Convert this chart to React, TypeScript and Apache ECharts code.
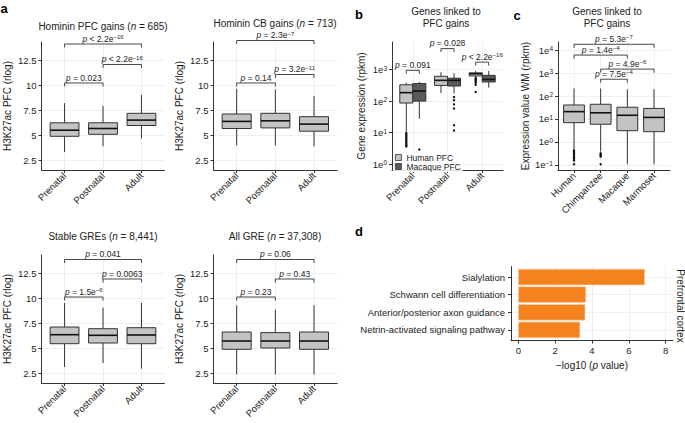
import React, { useEffect, useRef } from 'react';
import * as echarts from 'echarts';

const FONT = '"Liberation Sans", Arial, Helvetica, sans-serif';
const INK = '#222222';
const AXIS = '#333333';
const GRIDLINE = '#ebebeb';
const LIGHT = '#c3c3c3';
const DARK = '#5a5a5a';
const ORANGE = '#f4831f';

// ---------- categories / ticks ----------
const stages = ['Prenatal', 'Postnatal', 'Adult'];
const species = ['Human', 'Chimpanzee', 'Macaque', 'Marmoset'];
const terms = [
  'Sialylation',
  'Schwann cell differentiation',
  'Anterior/posterior axon guidance',
  'Netrin-activated signaling pathway',
];
const termLogP = [6.86, 3.66, 3.62, 3.34];

const rlogTicks = [2.5, 5, 7.5, 10, 12.5];
const exprTicks = [1, 10, 100, 1000];
const wmTicks = [0.1, 1, 10, 100, 1000, 10000];
const logPTicks = [0, 2, 4, 6, 8];

// ---------- panel a: boxes [min, q1, median, q3, max] ----------
const homininPfcBoxes = [
  [3.3, 4.87, 5.48, 6.22, 8.18],
  [3.86, 5.07, 5.65, 6.22, 7.9],
  [4.64, 5.95, 6.49, 7.17, 9.0],
];
const homininCbBoxes = [
  [3.96, 5.65, 6.36, 7.1, 9.6],
  [3.96, 5.71, 6.42, 7.17, 9.55],
  [3.86, 5.38, 6.09, 6.83, 8.92],
];
const stableGreBoxes = [
  [3.1, 5.43, 6.33, 7.1, 9.5],
  [3.5, 5.5, 6.27, 6.93, 9.04],
  [2.93, 5.43, 6.3, 7.03, 9.5],
];
const allGreBoxes = [
  [2.37, 4.87, 5.7, 6.6, 9.27],
  [2.37, 5.0, 5.7, 6.54, 8.84],
  [2.37, 4.87, 5.7, 6.6, 9.27],
];
// [from, to, y, p label, superscript]
const homininPfcPvals = [
  [1, 3, 14.1, '< 2.2e', '−16'],
  [2, 3, 12.05, '< 2.2e', '−16'],
  [1, 2, 10.2, '= 0.023', ''],
];
const homininCbPvals = [
  [1, 3, 14.45, '= 2.3e', '−7'],
  [2, 3, 11.05, '= 3.2e', '−11'],
  [1, 2, 10.2, '= 0.14', ''],
];
const stableGrePvals = [
  [1, 3, 13.85, '= 0.041', ''],
  [2, 3, 11.9, '= 0.0063', ''],
  [1, 2, 10.1, '= 1.5e', '−6'],
];
const allGrePvals = [
  [1, 3, 13.85, '= 0.06', ''],
  [2, 3, 11.9, '= 0.43', ''],
  [1, 2, 10.1, '= 0.23', ''],
];

// ---------- panel b: gene expression (rpkm) ----------
const humanPfcExpr = [
  [10.5, 87, 186, 331, 389],
  [182, 316, 457, 617, 832],
  [589, 631, 741, 794, 912],
];
const macaquePfcExpr = [
  [27.5, 100, 209, 363, 407],
  [174, 302, 457, 537, 776],
  [269, 407, 490, 661, 912],
];
// [stage, rpkm]
const humanPfcOutliers = [
  [1, 9.6], [1, 8.7], [1, 7.9], [1, 7.2], [1, 6.6], [1, 6.0], [1, 5.5],
  [1, 5.0], [1, 4.6], [1, 4.2], [1, 3.9], [1, 3.6],
  [3, 545], [3, 505], [3, 465], [3, 425], [3, 385], [3, 330], [3, 195],
];
const macaquePfcOutliers = [
  [1, 2.9], [2, 135], [2, 107], [2, 79], [2, 58], [2, 17], [2, 11.7],
];
// [stage, y, p label, superscript]
const exprPvals = [
  [1, 955, '= 0.091', ''],
  [2, 4677, '= 0.028', ''],
  [3, 1738, '< 2.2e', '−16'],
];

// ---------- panel c: expression value WM (rpkm) ----------
const wmBoxes = [
  [0.45, 6.9, 20.9, 40.7, 214],
  [0.38, 5.9, 18.6, 43.7, 214],
  [0.107, 3.1, 14.5, 32.4, 195],
  [0.107, 2.8, 11.7, 28.8, 195],
];
const wmOutliers = [
  [1, 0.42], [1, 0.37], [1, 0.32], [1, 0.28], [1, 0.24], [1, 0.21], [1, 0.18], [1, 0.155], [1, 0.107],
  [2, 0.32], [2, 0.29], [2, 0.26], [2, 0.23], [2, 0.107],
];
const wmPvals = [
  [1, 4, 17800, '= 5.3e', '−7'],
  [1, 3, 6030, '= 1.4e', '−4'],
  [2, 4, 1480, '= 4.9e', '−6'],
  [2, 3, 537, '= 7.5e', '−4'],
];

// ---------- helpers ----------
const lg = (v: number) => Math.log10(v);
const pRich = {
  i: { fontStyle: 'italic', fontSize: 8.5, fontFamily: FONT, color: INK },
  n: { fontSize: 8.5, fontFamily: FONT, color: INK },
  s: { fontSize: 6, fontFamily: FONT, color: INK, verticalAlign: 'top' },
};
const supRich = {
  s: { fontSize: 6.5, fontFamily: FONT, color: INK, verticalAlign: 'top' },
};
const titleRich = {
  i: { fontStyle: 'italic', fontSize: 10, fontFamily: FONT, color: INK },
};

function gridAt(left: number, top: number, width: number, height: number) {
  return { left, top, width, height, containLabel: false, outerBoundsMode: 'none' };
}

function xCatAxis(gridIndex: number, cats: string[]) {
  const vals = cats.map((_, i) => i + 1);
  return {
    type: 'value', gridIndex, min: 0.4, max: cats.length + 0.6,
    axisLine: { show: true, onZero: false, lineStyle: { color: AXIS, width: 1 } },
    axisTick: { show: true, length: 3, customValues: vals, lineStyle: { color: AXIS, width: 1 } },
    axisLabel: {
      customValues: vals, rotate: 45, margin: 4, fontSize: 9.5, color: INK, fontFamily: FONT,
      formatter: (v: number) => cats[Math.round(v) - 1],
    },
    splitLine: { show: true, lineStyle: { color: GRIDLINE, width: 0.8 } },
  };
}

function yValAxis(gridIndex: number, min: number, max: number, ticks: number[], name: string, nameGap: number, formatter?: any) {
  return {
    type: 'value', gridIndex, min, max,
    name, nameLocation: 'middle', nameRotate: 90, nameGap, nameMoveOverlap: false,
    nameTextStyle: { fontSize: 10, color: INK, fontFamily: FONT },
    axisLine: { show: true, onZero: false, lineStyle: { color: AXIS, width: 1 } },
    axisTick: { show: true, length: 3, customValues: ticks, lineStyle: { color: AXIS, width: 1 } },
    axisLabel: {
      customValues: ticks, margin: 5, fontSize: 9.5, color: INK, fontFamily: FONT,
      formatter, rich: supRich,
    },
    splitLine: { show: true, lineStyle: { color: GRIDLINE, width: 0.8 } },
  };
}

const logFmt = (v: number) => {
  const k = Math.round(v);
  return '1e{s|' + (k < 0 ? '−' + -k : String(k)) + '}';
};

function boxSeries(axisIndex: number, rows: number[][], offset: number, width: number, fill: string, log: boolean, name?: string) {
  const tf = log ? lg : (v: number) => v;
  return {
    type: 'custom', name, xAxisIndex: axisIndex, yAxisIndex: axisIndex, z: 3, silent: true,
    itemStyle: { color: fill },
    encode: { x: 0, y: [1, 2, 3, 4, 5] },
    data: rows.map((b, i) => [i + 1 + offset, ...b.map(tf)]),
    renderItem: (params: any, api: any) => {
      const x = api.value(0);
      const p = [1, 2, 3, 4, 5].map((k) => api.coord([x, api.value(k)]));
      const cx = p[0][0];
      const hw = api.size([width, 0])[0] / 2;
      return {
        type: 'group',
        children: [
          { type: 'line', shape: { x1: cx, y1: p[4][1], x2: cx, y2: p[3][1] }, style: { stroke: AXIS, lineWidth: 1 } },
          { type: 'line', shape: { x1: cx, y1: p[1][1], x2: cx, y2: p[0][1] }, style: { stroke: AXIS, lineWidth: 1 } },
          { type: 'rect', shape: { x: cx - hw, y: p[3][1], width: 2 * hw, height: p[1][1] - p[3][1] }, style: { fill, stroke: AXIS, lineWidth: 1 } },
          { type: 'line', shape: { x1: cx - hw, y1: p[2][1], x2: cx + hw, y2: p[2][1] }, style: { stroke: '#111', lineWidth: 1.6 } },
        ],
      };
    },
  };
}

function bracketSeries(axisIndex: number, rows: any[], log: boolean) {
  return {
    type: 'custom', xAxisIndex: axisIndex, yAxisIndex: axisIndex, z: 4, silent: true,
    encode: { x: [0, 1], y: 2 },
    data: rows.map((r) => [r[0], r[1], log ? lg(r[2]) : r[2]]),
    renderItem: (params: any, api: any) => {
      const a = api.coord([api.value(0), api.value(2)]);
      const b = api.coord([api.value(1), api.value(2)]);
      const row = rows[params.dataIndex];
      const text = '{i|p}{n| ' + row[3] + '}' + (row[4] ? '{s|' + row[4] + '}' : '');
      const t = 3.5;
      return {
        type: 'group',
        children: [
          {
            type: 'polyline',
            shape: { points: [[a[0], a[1] + t], [a[0], a[1]], [b[0], b[1]], [b[0], b[1] + t]] },
            style: { stroke: AXIS, lineWidth: 0.9, fill: null },
          },
          {
            type: 'text', x: (a[0] + b[0]) / 2, y: a[1] - 1,
            style: {
              text, rich: pRich, fontSize: 8.5, fontFamily: FONT, fill: INK,
              align: 'center', verticalAlign: 'bottom',
            },
          },
        ],
      };
    },
  };
}

function scatterSeries(axisIndex: number, pts: number[][], offset: number) {
  return {
    type: 'scatter', xAxisIndex: axisIndex, yAxisIndex: axisIndex, z: 4, silent: true,
    symbolSize: 2.4, itemStyle: { color: '#111', opacity: 1 },
    data: pts.map((p) => [p[0] + offset, lg(p[1])]),
  };
}

function txt(x: number, y: number, text: string, extra: any = {}) {
  return {
    type: 'text', x, y, silent: true,
    style: {
      text, fontFamily: FONT, fontSize: 10, fill: INK, align: 'center', verticalAlign: 'middle',
      rich: titleRich, ...extra,
    },
  };
}

function buildOption() {
  const dodge = 0.1875;
  const bBrackets = exprPvals.map((r) => [(r[0] as number) - dodge, (r[0] as number) + dodge, r[1], r[2], r[3]]);
  return {
    animation: false,
    backgroundColor: '#ffffff',
    textStyle: { fontFamily: FONT },
    grid: [
      gridAt(41.5, 42, 123, 128),
      gridAt(213.5, 42, 123.7, 128),
      gridAt(41.5, 255, 123, 128),
      gridAt(213.5, 255, 123.7, 128),
      gridAt(392, 42, 111, 128),
      gridAt(558, 42, 112, 128),
      gridAt(511, 266.5, 162, 74),
    ],
    xAxis: [
      xCatAxis(0, stages),
      xCatAxis(1, stages),
      xCatAxis(2, stages),
      xCatAxis(3, stages),
      xCatAxis(4, stages),
      xCatAxis(5, species),
      {
        type: 'value', gridIndex: 6, min: -0.4, max: 8.4,
        name: '−log10 ({i|p} value)', nameLocation: 'middle', nameGap: 19.5, nameMoveOverlap: false,
        nameTextStyle: { fontSize: 10, color: INK, fontFamily: FONT, rich: titleRich },
        axisLine: { show: true, onZero: false, lineStyle: { color: AXIS, width: 1 } },
        axisTick: { show: true, length: 3, customValues: logPTicks, lineStyle: { color: AXIS } },
        axisLabel: { customValues: logPTicks, margin: 5, fontSize: 9.5, color: INK, fontFamily: FONT },
        splitLine: { show: true, lineStyle: { color: GRIDLINE, width: 0.8 } },
      },
    ],
    yAxis: [
      yValAxis(0, 1.5, 14.3, rlogTicks, 'H3K27ac PFC (rlog)', 29),
      yValAxis(1, 1.5, 14.3, rlogTicks, 'H3K27ac PFC (rlog)', 29),
      yValAxis(2, 1.5, 14.3, rlogTicks, 'H3K27ac PFC (rlog)', 29),
      yValAxis(3, 1.5, 14.3, rlogTicks, 'H3K27ac PFC (rlog)', 29),
      yValAxis(4, -0.19, 3.88, exprTicks.map(lg), 'Gene expression (rpkm)', 26, logFmt),
      yValAxis(5, -1.22, 4.35, wmTicks.map(lg), 'Expression value WM (rpkm)', 28, logFmt),
      {
        type: 'value', gridIndex: 6, min: 0.4, max: 4.6, inverse: true,
        axisLine: { show: true, onZero: false, lineStyle: { color: AXIS, width: 1 } },
        axisTick: { show: true, length: 3, customValues: [1, 2, 3, 4], lineStyle: { color: AXIS } },
        axisLabel: {
          customValues: [1, 2, 3, 4], margin: 6, fontSize: 9.5, color: INK, fontFamily: FONT,
          formatter: (v: number) => terms[Math.round(v) - 1],
        },
        splitLine: { show: true, lineStyle: { color: GRIDLINE, width: 0.8 } },
      },
    ],
    legend: {
      left: 393, top: 152, orient: 'vertical', itemWidth: 6, itemHeight: 6, itemGap: 0,
      padding: [1, 2], backgroundColor: 'rgba(255,255,255,0.85)', selectedMode: false,
      icon: 'rect',
      textStyle: { fontSize: 8.5, color: INK, fontFamily: FONT, lineHeight: 8.5 },
      data: [
        { name: 'Human PFC', itemStyle: { color: LIGHT, borderColor: AXIS, borderWidth: 0.8 } },
        { name: 'Macaque PFC', itemStyle: { color: DARK, borderColor: AXIS, borderWidth: 0.8 } },
      ],
    },
    series: [
      boxSeries(0, homininPfcBoxes, 0, 0.75, LIGHT, false),
      bracketSeries(0, homininPfcPvals, false),
      boxSeries(1, homininCbBoxes, 0, 0.75, LIGHT, false),
      bracketSeries(1, homininCbPvals, false),
      boxSeries(2, stableGreBoxes, 0, 0.75, LIGHT, false),
      bracketSeries(2, stableGrePvals, false),
      boxSeries(3, allGreBoxes, 0, 0.75, LIGHT, false),
      bracketSeries(3, allGrePvals, false),
      boxSeries(4, humanPfcExpr, -dodge, 0.375, LIGHT, true, 'Human PFC'),
      boxSeries(4, macaquePfcExpr, dodge, 0.375, DARK, true, 'Macaque PFC'),
      scatterSeries(4, humanPfcOutliers, -dodge),
      scatterSeries(4, macaquePfcOutliers, dodge),
      bracketSeries(4, bBrackets, true),
      boxSeries(5, wmBoxes, 0, 0.78, LIGHT, true),
      scatterSeries(5, wmOutliers, 0),
      bracketSeries(5, wmPvals, true),
      {
        type: 'custom', xAxisIndex: 6, yAxisIndex: 6, z: 3, silent: true,
        encode: { x: 0, y: 1 },
        data: termLogP.map((v, i) => [v, i + 1]),
        renderItem: (params: any, api: any) => {
          const y = api.value(1);
          const s = api.coord([0, y]);
          const e = api.coord([api.value(0), y]);
          const h = api.size([0, 0.9])[1];
          return {
            type: 'rect',
            shape: { x: s[0], y: s[1] - h / 2, width: e[0] - s[0], height: h },
            style: { fill: ORANGE, stroke: '#fcd9b8', lineWidth: 0.6 },
          };
        },
      },
    ],
    graphic: [
      txt(4, 8, 'a', { fontSize: 13, fontWeight: 'bold', fill: '#000' }),
      txt(359, 14, 'b', { fontSize: 13, fontWeight: 'bold', fill: '#000' }),
      txt(517, 15, 'c', { fontSize: 13, fontWeight: 'bold', fill: '#000' }),
      txt(359, 231, 'd', { fontSize: 13, fontWeight: 'bold', fill: '#000' }),
      txt(103, 26.5, 'Hominin PFC gains ({i|n} = 685)'),
      txt(275, 23, 'Hominin CB gains ({i|n} = 713)'),
      txt(103, 236.5, 'Stable GREs ({i|n} = 8,441)'),
      txt(275, 236.5, 'All GRE ({i|n} = 37,308)'),
      txt(446, 11.5, 'Genes linked to'),
      txt(446, 23.5, 'PFC gains'),
      txt(607, 11.5, 'Genes linked to'),
      txt(607, 23.5, 'PFC gains'),
      { ...txt(680, 306, 'Prefrontal cortex'), rotation: -Math.PI / 2 },
    ],
  };
}

export default function App() {
  const ref = useRef<HTMLDivElement>(null);
  useEffect(() => {
    if (!ref.current) return;
    const chart = echarts.init(ref.current, undefined, { renderer: 'svg' });
    chart.setOption(buildOption() as any);
    return () => chart.dispose();
  }, []);
  return (
    <div
      ref={ref}
      style={{ position: 'fixed', left: 0, top: 0, width: 685, height: 423, background: '#fff' }}
    />
  );
}
